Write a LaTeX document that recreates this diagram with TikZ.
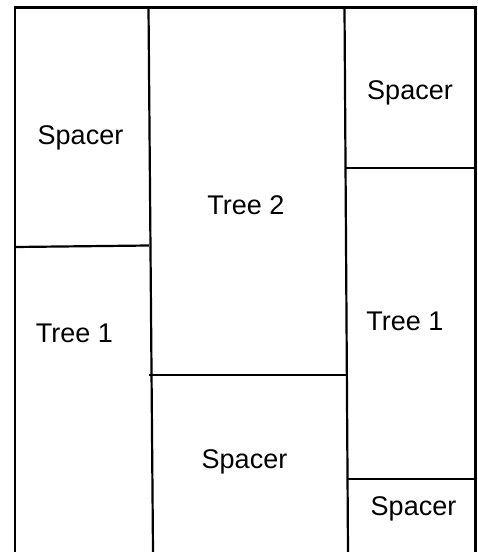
\documentclass[tikz,border=0pt]{standalone}
\usepackage{fontspec}
\setmainfont{Liberation Sans}
\usepackage{tikz}

\begin{document}
\begin{tikzpicture}[x=1pt,y=-1pt,line width=2.2pt,
    label/.style={anchor=base,font=\fontsize{27}{30}\selectfont}]
  \useasboundingbox (0,0) rectangle (477,552);
  % Frame corners (bottom runs off the page)
  \coordinate (tl) at (15,7.5);
  \coordinate (tr) at (475.5,7.5);
  \coordinate (bl) at (15,552);
  \coordinate (br) at (475.5,552);
  % Column dividers
  \coordinate (d1top) at (148.5,7.5);
  \coordinate (d1bot) at (153,552);
  \coordinate (d2top) at (344.5,7.5);
  \coordinate (d2bot) at (348,552);
  % Split points
  \coordinate (ls1) at (15,247);
  \coordinate (ls2) at (149,245.5);
  \coordinate (ms1) at (149,375);
  \coordinate (ms2) at (347,375);
  \coordinate (rs1) at (345,168);
  \coordinate (rs2) at (475.5,168);
  \coordinate (rb1) at (348,479);
  \coordinate (rb2) at (475.5,479);
  % Frame
  \draw (bl) -- (tl) -- (tr) -- (br);
  \draw (d1top) -- (d1bot);
  \draw (d2top) -- (d2bot);
  \draw (ls1) -- (ls2);
  \draw (ms1) -- (ms2);
  \draw (rs1) -- (rs2);
  \draw (rb1) -- (rb2);
  % Labels
  \node[label] (spacerL) at (80.5,144) {Spacer};
  \node[label] (tree1L) at (74.5,342) {Tree 1};
  \node[label] (tree2) at (246,214) {Tree 2};
  \node[label] (spacerM) at (244.5,468) {Spacer};
  \node[label] (spacerTR) at (410,99) {Spacer};
  \node[label] (tree1R) at (405,330) {Tree 1};
  \node[label] (spacerBR) at (413.5,515) {Spacer};
\end{tikzpicture}
\end{document}
